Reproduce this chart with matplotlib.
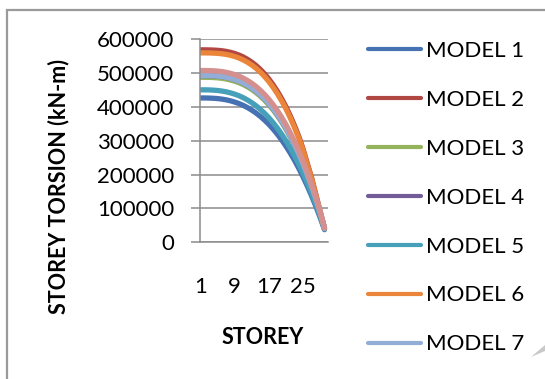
import matplotlib
matplotlib.use("Agg")
import matplotlib.pyplot as plt
from matplotlib.patches import Rectangle, Polygon

plt.rcParams['font.family'] = ['Lato', 'DejaVu Sans']

storeys = list(range(1, 31))

model_1 = [426000, 426000, 425700, 425100, 424200, 422600, 420500, 417600, 414000, 409500,
           404100, 397600, 390100, 381400, 371600, 360400, 348000, 334100, 318700, 301900,
           283500, 263400, 241600, 218100, 192800, 165600, 136500, 105500, 72400, 37200]
model_2 = [568000, 568000, 567800, 567400, 566600, 565400, 563500, 560800, 557200, 552700,
           547000, 540000, 531600, 521800, 510300, 497000, 481800, 464600, 445300, 423700,
           399700, 373200, 344000, 312000, 275000, 232000, 190000, 140000, 90000, 42000]
model_3 = [487000, 487000, 486800, 486300, 485400, 484000, 481900, 479100, 475500, 471100,
           465500, 458900, 451000, 441800, 431300, 419300, 405600, 390400, 373300, 354500,
           333700, 310900, 286000, 258900, 229600, 197800, 163700, 127100, 87700, 40500]
model_4 = [492000, 492000, 491800, 491300, 490400, 489000, 486800, 484000, 480400, 475900,
           470300, 463500, 455500, 446200, 435600, 423400, 409600, 394200, 376900, 357900,
           336800, 313700, 288600, 261100, 231400, 199300, 164700, 127600, 87800, 41000]
model_5 = [450000, 450000, 449700, 449100, 448100, 446400, 444200, 441100, 437300, 432600,
           426800, 420000, 412100, 402900, 392500, 380700, 367600, 352900, 336700, 318900,
           299400, 278200, 255200, 230400, 203600, 174900, 144200, 111500, 76500, 39300]
model_6 = [559000, 559000, 558800, 558400, 557600, 556400, 554500, 551900, 548400, 543900,
           538300, 531400, 523200, 513500, 502200, 489100, 474200, 457200, 438200, 417000,
           393400, 367300, 338500, 307000, 271000, 228300, 187000, 137800, 88600, 41000]
model_7 = [492000, 492000, 491800, 491300, 490400, 489000, 486800, 484000, 480400, 475900,
           470300, 463500, 455500, 446200, 435600, 423400, 409600, 394200, 376900, 357900,
           336800, 313700, 288600, 261100, 231400, 199300, 164700, 127600, 87800, 41000]
model_8 = [507000, 507000, 506700, 506200, 505300, 503900, 501700, 498800, 495000, 490400,
           484600, 477600, 469400, 459800, 448900, 436300, 422100, 406200, 388400, 368800,
           347100, 323300, 297400, 269100, 238400, 205300, 169700, 131500, 90500, 42000]

series_names = ["MODEL 1", "MODEL 2", "MODEL 3", "MODEL 4",
                "MODEL 5", "MODEL 6", "MODEL 7", "MODEL 8"]
series_values = [model_1, model_2, model_3, model_4, model_5, model_6, model_7, model_8]
series_colors = ["#4672B4", "#B04743", "#93B45A", "#735B9A",
                 "#46A0BA", "#EA8539", "#93AED6", "#D48F8E"]

y_ticks = [0, 100000, 200000, 300000, 400000, 500000, 600000]
x_ticks = [1, 9, 17, 25]

fig = plt.figure(figsize=(5.45, 3.79), dpi=100)
fig.patch.set_facecolor("white")

# outer chart border
fig.patches.append(Rectangle((7 / 545, -0.2), 1.2, 1.2 - 10 / 379,
                             transform=fig.transFigure, fill=False,
                             edgecolor="#9A9A9A", linewidth=1.6))
fig.patches.append(Polygon([(531 / 545, 1 - 357 / 379), (545 / 545, 1 - 345 / 379),
                            (545 / 545, 1 - 351 / 379)],
                           closed=True, transform=fig.transFigure,
                           facecolor="#C9C9C9", edgecolor="none"))

ax = fig.add_axes([200 / 545, 1 - 242.3 / 379, 127.7 / 545, (242.3 - 39) / 379])

lines = []
for name, vals, col in zip(series_names, series_values, series_colors):
    ln, = ax.plot(storeys, vals, color=col, linewidth=3.8,
                  solid_capstyle="round", solid_joinstyle="round", label=name)
    lines.append(ln)

ax.set_xlim(0.9, 30.75)
ax.set_ylim(0, 600000)
ax.set_yticks(y_ticks)
ax.set_yticklabels([str(v) for v in y_ticks])
ax.set_xticks(x_ticks)
ax.set_xticklabels([str(v) for v in x_ticks])
ax.yaxis.grid(True, color="#8C8C8C", linewidth=1.1)
ax.set_axisbelow(True)
for side in ("top", "right"):
    ax.spines[side].set_visible(False)
for side in ("left", "bottom"):
    ax.spines[side].set_color("#8C8C8C")
    ax.spines[side].set_linewidth(1.1)
ax.tick_params(axis="y", length=6.5, width=1.1, color="#8C8C8C",
               labelsize=16, pad=12)
ax.tick_params(axis="x", length=0, labelsize=16, pad=25)

fig.text(263 / 545, 1 - 337 / 379, "STOREY", fontsize=15.5, fontweight="bold",
         ha="center", va="center")
fig.text(59 / 545, 1 - 186 / 379, "STOREY TORSION (kN-m)", fontsize=15.5,
         fontweight="bold", rotation=90, ha="center", va="center")

fig.legend(handles=lines[:7], loc="upper left",
           bbox_to_anchor=(368 / 545, 1 - 41 / 379), frameon=False,
           fontsize=16, handlelength=2.38, handletextpad=0.22,
           labelspacing=1.3, borderpad=0, borderaxespad=0)
for h in fig.legends[0].legend_handles:
    h.set_linewidth(3.0)

fig.savefig("out.png", dpi=100)
